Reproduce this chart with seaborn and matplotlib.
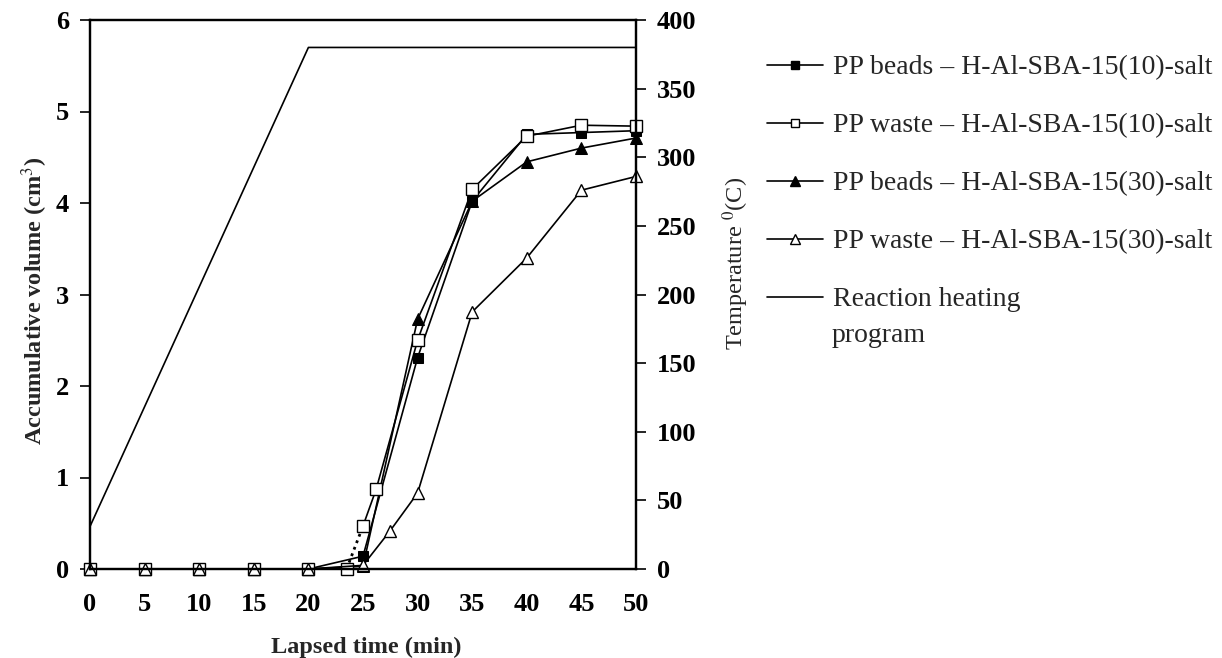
import matplotlib
matplotlib.use("Agg")
import matplotlib.pyplot as plt
import seaborn as sns
from matplotlib.lines import Line2D

sns.set_theme(style="white")
plt.rcParams['font.family'] = ['Liberation Serif', 'DejaVu Serif']
plt.rcParams['mathtext.fontset'] = 'stix'

# ---- data ----
labels = ["PP beads \u2013 H-Al-SBA-15(10)-salt",
          "PP waste \u2013 H-Al-SBA-15(10)-salt",
          "PP beads \u2013 H-Al-SBA-15(30)-salt",
          "PP waste \u2013 H-Al-SBA-15(30)-salt",
          "Reaction heating"]
label_cont = "program"

beads10_t = [0, 5, 10, 15, 20, 25, 30, 35, 40, 45, 50]
beads10_v = [0, 0, 0, 0, 0, 0.14, 2.31, 4.02, 4.75, 4.77, 4.79]

waste10_t = [0, 5, 10, 15, 20, 23.5, 25, 26.2, 30, 35, 40, 45, 50]
waste10_v = [0, 0, 0, 0, 0, 0.0, 0.47, 0.87, 2.5, 4.15, 4.73, 4.85, 4.84]

beads30_t = [0, 5, 10, 15, 20, 25, 30, 35, 40, 45, 50]
beads30_v = [0, 0, 0, 0, 0, 0.03, 2.73, 4.02, 4.45, 4.6, 4.71]

waste30_t = [0, 5, 10, 15, 20, 25, 27.5, 30, 35, 40, 45, 50]
waste30_v = [0, 0, 0, 0, 0, 0.04, 0.42, 0.83, 2.81, 3.4, 4.14, 4.29]

heat_t = [0, 20, 50]
heat_T = [31, 380, 380]

xticks = [0, 5, 10, 15, 20, 25, 30, 35, 40, 45, 50]
yticks_left = [0, 1, 2, 3, 4, 5, 6]
yticks_right = [0, 50, 100, 150, 200, 250, 300, 350, 400]

# ---- figure ----
W, H = 1222, 658
fig = plt.figure(figsize=(12.22, 6.58), dpi=100)
ax = fig.add_axes([90 / W, 1 - 569 / H, 546 / W, 549 / H])
ax2 = ax.twinx()

ms = 7.5
lw = 1.2
common = dict(estimator=None, sort=False, legend=False, color="black")

# PP beads 10 - filled square
sns.lineplot(x=beads10_t, y=beads10_v, ax=ax, marker="s", markersize=ms,
             markerfacecolor="black", markeredgecolor="black", linewidth=lw, **common)
# PP beads 30 - filled triangle
sns.lineplot(x=beads30_t, y=beads30_v, ax=ax, marker="^", markersize=ms + 1,
             markerfacecolor="black", markeredgecolor="black", linewidth=lw, **common)
# PP waste 10 - open square, dotted segment between 23.5 and 25 min
sns.lineplot(x=waste10_t[:6], y=waste10_v[:6], ax=ax, linewidth=lw, **common)
sns.lineplot(x=waste10_t[5:7], y=waste10_v[5:7], ax=ax, linewidth=2.0,
             linestyle=(0, (1, 1.5)), **common)
sns.lineplot(x=waste10_t[6:], y=waste10_v[6:], ax=ax, linewidth=lw, **common)
sns.lineplot(x=waste10_t, y=waste10_v, ax=ax, marker="s", markersize=ms + 0.5,
             markerfacecolor="white", markeredgecolor="black", markeredgewidth=1.0,
             linestyle="none", **common)
# PP waste 30 - open triangle (drawn on top, visible inside the squares at 0)
sns.lineplot(x=waste30_t, y=waste30_v, ax=ax, marker="^", markersize=ms + 1.5,
             markerfacecolor="white", markeredgecolor="black", markeredgewidth=1.0,
             linewidth=lw, **common)

# heating program
sns.lineplot(x=heat_t, y=heat_T, ax=ax2, linewidth=1.2, **common)

ax.set_xlim(0, 50)
ax.set_ylim(0, 6)
ax2.set_ylim(0, 400)
ax.set_xticks(xticks)
ax.set_yticks(yticks_left)
ax2.set_yticks(yticks_right)
for line in ax.lines + ax2.lines:
    line.set_clip_on(False)

tick_font = dict(fontsize=19, fontweight="bold")
ax.set_xticklabels([str(t) for t in xticks], **tick_font)
ax.set_yticklabels([str(t) for t in yticks_left], **tick_font)
ax2.set_yticklabels([str(t) for t in yticks_right], **tick_font)

for a in (ax, ax2):
    for s in a.spines.values():
        s.set_color("black")
        s.set_linewidth(1.6)
    a.tick_params(direction="out", length=7, width=1.2, colors="black", pad=8)
ax.tick_params(axis="x", length=5, pad=12)

ax.set_xlabel("")
ax.set_ylabel("")
ax2.set_ylabel("")
fig.text(366 / W, 1 - 647 / H, "Lapsed time (min)", fontsize=17.5, fontweight="bold",
         ha="center", va="center")
fig.text(35 / W, 1 - 301 / H, "Accumulative volume (cm$^{3}$)", fontsize=17.5,
         fontweight="bold", rotation=90, ha="center", va="center")
fig.text(736 / W, 1 - 263 / H, "Temperature $^{0}$(C)", fontsize=17.5,
         rotation=90, ha="center", va="center")

# ---- legend ----
handles = [
    Line2D([], [], color="black", marker="s", markersize=6, markerfacecolor="black", lw=1.2),
    Line2D([], [], color="black", marker="s", markersize=6, markerfacecolor="white", lw=1.2),
    Line2D([], [], color="black", marker="^", markersize=7, markerfacecolor="black", lw=1.2),
    Line2D([], [], color="black", marker="^", markersize=7, markerfacecolor="white", lw=1.2),
    Line2D([], [], color="black", lw=1.2),
]
fig.legend(handles, labels, loc="upper left", bbox_to_anchor=(767 / W, 1 - 55 / H),
           frameon=False, fontsize=20, handlelength=2.0, handletextpad=0.36,
           labelspacing=1.17, borderaxespad=0, borderpad=0)
fig.text(832 / W, 1 - 335 / H, label_cont, fontsize=20, ha="left", va="center")

fig.savefig("out.png", dpi=100, facecolor="white")
